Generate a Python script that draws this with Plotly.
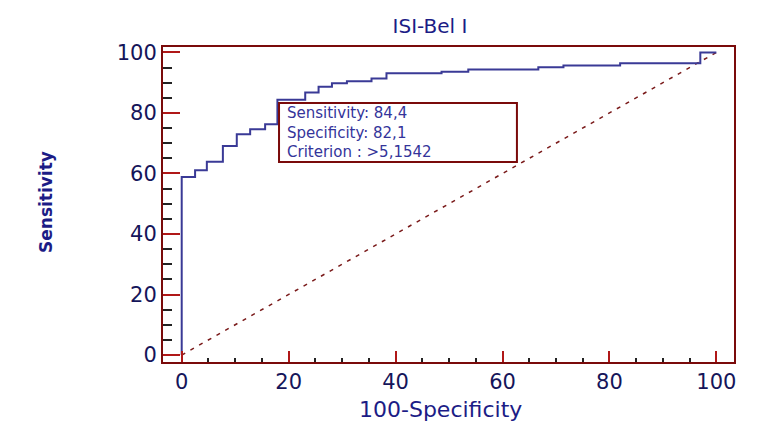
import plotly.graph_objects as go

# ROC curve (step points)
fpr = [0, 0, 2.5, 4.7, 7.7, 10.3, 12.8, 15.6, 17.9, 23.1, 25.6, 28.1, 30.9,
       35.5, 38.3, 48.6, 53.6, 66.7, 71.4, 82.0, 97.0, 100]
tpr = [0, 58.8, 61.1, 63.9, 69.1, 73.0, 74.6, 76.3, 84.4, 86.8, 88.7, 89.8,
       90.5, 91.4, 93.1, 93.6, 94.4, 95.1, 95.7, 96.4, 100, 100]
diag_x = [0, 100]
diag_y = [0, 100]
tick_vals = [0, 20, 40, 60, 80, 100]
tick_text = ["0", "20", "40", "60", "80", "100"]
info_lines = ["Sensitivity: 84,4", "Specificity: 82,1", "Criterion : >5,1542"]
box_x = [18.2, 62.7]
box_y = [63.8, 83.3]

# page has an 8px body margin; compensate so the plot lands where the reference has it
OFF = 8
W, H = 764 - OFF, 434 - OFF
PL, PT, PR, PB = 163, 47, 734, 362          # plot frame in window pixels
ML, MT = PL - OFF, PT - OFF
MR = W - (PR - OFF)
MB = H - (PB - OFF)
PW, PH = PR - PL, PB - PT


def px(x):
    return (x - PL) / PW


def py(y):
    return (PB - y) / PH


FONT = "DejaVu Sans"
NAVY = "#1c1c86"
FRAME = "#7a0a0a"

fig = go.Figure()
fig.add_trace(go.Scatter(x=diag_x, y=diag_y, mode="lines",
                         line=dict(color="#7a1a1a", width=1.5, dash="4px,6px"),
                         hoverinfo="skip", showlegend=False))
fig.add_trace(go.Scatter(x=fpr, y=tpr, mode="lines", line_shape="hv",
                         line=dict(color="#3a3a96", width=2),
                         showlegend=False))

axis_common = dict(
    showgrid=False, zeroline=False, showline=True, mirror=True,
    linecolor=FRAME, linewidth=2, ticks="inside", tickcolor="#b01818",
    tickwidth=1.5, tickvals=tick_vals, ticktext=tick_text,
    tickfont=dict(family=FONT, size=21, color="#15155a"),
)
fig.update_xaxes(range=[-3.5, 103.3], ticklen=11,
                 minor=dict(dtick=5, ticks="inside", ticklen=4,
                            tickcolor="#222222", tickwidth=1.5),
                 **axis_common)
fig.update_yaxes(range=[-2.3, 101.8], ticklen=17,
                 minor=dict(dtick=5, ticks="inside", ticklen=9,
                            tickcolor="#222222", tickwidth=1.5),
                 **axis_common)

# info box
fig.add_shape(type="rect", xref="x", yref="y", x0=box_x[0], x1=box_x[1],
              y0=box_y[0], y1=box_y[1], fillcolor="white",
              line=dict(color=FRAME, width=2), layer="above")
fig.add_annotation(xref="x", yref="y", x=box_x[0] + 1.2,
                   y=(box_y[0] + box_y[1]) / 2, xanchor="left",
                   yanchor="middle", align="left", showarrow=False,
                   text="<br>".join(info_lines),
                   font=dict(family=FONT, size=15, color="#34349a"))

# axis titles
fig.add_annotation(xref="paper", yref="paper", x=px(440), y=py(410),
                   xanchor="center", yanchor="middle", showarrow=False,
                   text="100-Specificity",
                   font=dict(family=FONT, size=22, color=NAVY))
fig.add_annotation(xref="paper", yref="paper", x=px(46), y=py(202),
                   xanchor="center", yanchor="middle", showarrow=False,
                   textangle=-90, text="<b>Sensitivity</b>",
                   font=dict(family=FONT, size=17, color=NAVY))

fig.update_layout(
    width=W, height=H, margin=dict(l=ML, r=MR, t=MT, b=MB, autoexpand=False),
    paper_bgcolor="white", plot_bgcolor="white",
    title=dict(text="ISI-Bel I", x=(430 - OFF) / W, xanchor="center",
               y=1 - (26 - OFF) / H, yanchor="middle",
               font=dict(family=FONT, size=20, color=NAVY)),
)

fig.write_html("out.html")
